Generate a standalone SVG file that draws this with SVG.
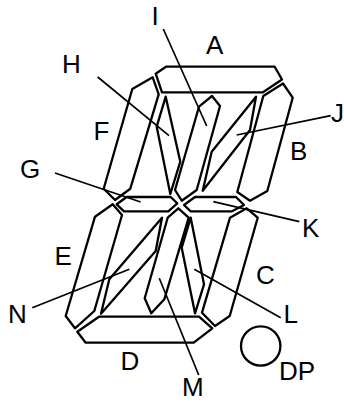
<svg xmlns="http://www.w3.org/2000/svg" width="344" height="402" viewBox="0 0 344 402">
<style>
.s{fill:none;stroke:#000;stroke-width:2.3;stroke-linejoin:round}
.c{fill:none;stroke:#000;stroke-width:1.7}
text{font-family:"Liberation Sans",Arial,sans-serif;font-size:26px;fill:#000}
</style>
<rect width="344" height="402" fill="#fff"/>
<g id="seg-A"><polygon class="s" points="155.7,73.7 166,66.7 274.7,66.7 282,79.5 263,92.3 162,92.3"/><text x="206" y="54">A</text></g>
<g id="seg-B"><polygon class="s" points="283,83.5 292.7,97.7 267.3,191 250,200.7 237.3,192 263.3,96"/><text x="290" y="160">B</text></g>
<g id="seg-C"><polygon class="s" points="246.7,208.3 257.7,217.7 229.7,316 215,326 202,312.7 230,217.7"/><text x="256" y="284">C</text></g>
<g id="seg-D"><polygon class="s" points="99,316.7 199,316.7 212.3,328.3 193.7,342.7 85.7,342.7 77.3,331.7"/><text x="120.5" y="370">D</text></g>
<g id="seg-E"><polygon class="s" points="112.7,204.3 122,215 94.3,311 75,328.3 65.7,316 95,216.7"/><text x="54.5" y="265">E</text></g>
<g id="seg-F"><polygon class="s" points="152.7,77.3 158.7,94.3 130.3,188.7 115,200 103.7,188.7 132.3,89"/><text x="93.5" y="140">F</text></g>
<g id="seg-G"><polygon class="s" points="116.7,204.3 126.7,197 170.7,197 177.3,203.3 168.3,211.3 124,211.3"/><text x="20" y="178">G</text></g>
<g id="seg-H"><polygon class="s" points="165.7,96.7 180.3,161.7 170.3,194 156.7,126.7"/><text x="62" y="73">H</text></g>
<g id="seg-I"><polygon class="s" points="212,96 220,106 196.7,190 181.7,200.7 175,190 199,106.7"/><text x="151.5" y="25">I</text></g>
<g id="seg-J"><polygon class="s" points="256,96.7 250,130 202.7,190.7 211.7,151.7"/><text x="331" y="122">J</text></g>
<g id="seg-K"><polygon class="s" points="184,205 195,197 236,197 244,205 232,211.3 190.7,211.3"/><text x="302" y="237">K</text></g>
<g id="seg-L"><polygon class="s" points="190.7,217.7 204,284.3 195,313.3 181.7,247.7"/><text x="283.5" y="323">L</text></g>
<g id="seg-M"><polygon class="s" points="178.3,208.3 188.7,217.7 164.3,299.3 151.3,313.3 144.7,298.3 167.7,217.7"/><text x="182" y="396">M</text></g>
<g id="seg-N"><polygon class="s" points="162,217.7 155.7,251 101,313.7 109.3,279.3"/><text x="8" y="323">N</text></g>
<g id="seg-DP"><circle class="s" cx="260.7" cy="346" r="19.7"/><text x="279" y="380">DP</text></g>
<g id="connectors">
<line class="c" x1="163.3" y1="29" x2="206.7" y2="126"/>
<line class="c" x1="97.7" y1="77" x2="169" y2="135.7"/>
<line class="c" x1="330.7" y1="115.7" x2="236.7" y2="135"/>
<line class="c" x1="55" y1="173" x2="140.7" y2="202"/>
<line class="c" x1="213.3" y1="201.7" x2="299.3" y2="221.7"/>
<line class="c" x1="194.3" y1="269.3" x2="280.7" y2="317.7"/>
<line class="c" x1="159.3" y1="278.3" x2="198.7" y2="375"/>
<line class="c" x1="129.3" y1="269.3" x2="32.3" y2="307.7"/>
</g>
</svg>
